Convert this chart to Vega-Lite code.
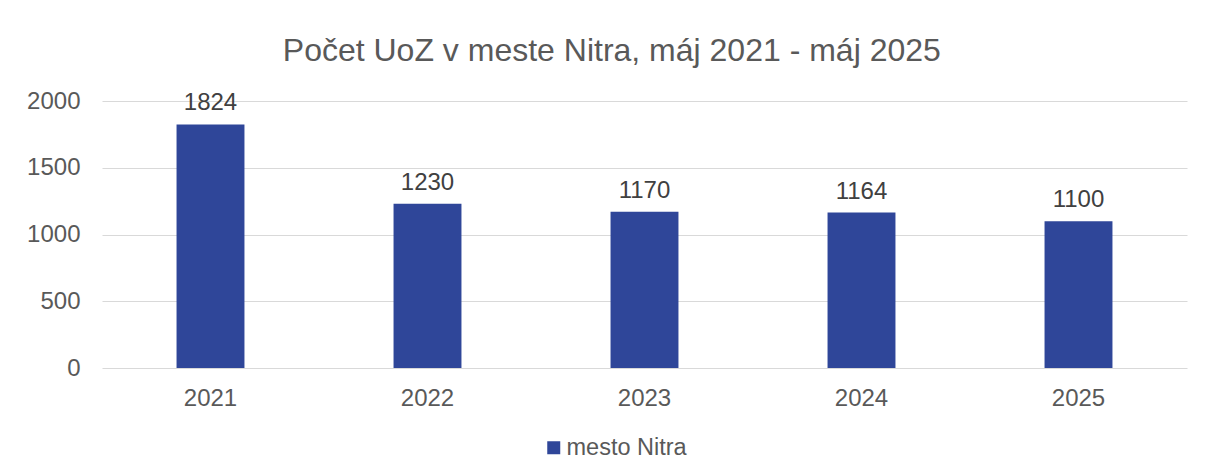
{
  "$schema": "https://vega.github.io/schema/vega-lite/v6.json",
  "width": 1085,
  "height": 267,
  "autosize": {"type": "none"},
  "padding": {"left": 102, "top": 101, "right": 22, "bottom": 108},
  "background": "white",
  "config": {
    "view": {"stroke": null},
    "font": "Liberation Sans",
    "text": {"font": "Liberation Sans"}
  },
  "title": {
    "text": "Počet UoZ v meste Nitra, máj 2021 - máj 2025",
    "fontSize": 32,
    "font": "Liberation Sans",
    "fontWeight": "normal",
    "color": "#595959",
    "anchor": "middle",
    "frame": "bounds",
    "offset": 21,
    "dx": 5
  },
  "data": {
    "values": [
      {"rok": "2021", "pocet": 1824, "seria": "mesto Nitra"},
      {"rok": "2022", "pocet": 1230, "seria": "mesto Nitra"},
      {"rok": "2023", "pocet": 1170, "seria": "mesto Nitra"},
      {"rok": "2024", "pocet": 1164, "seria": "mesto Nitra"},
      {"rok": "2025", "pocet": 1100, "seria": "mesto Nitra"}
    ]
  },
  "encoding": {
    "x": {
      "field": "rok",
      "type": "nominal",
      "title": null,
      "scale": {"paddingInner": 0.687, "paddingOuter": 0.3435},
      "axis": {
        "labelAngle": 0,
        "labelFontSize": 24,
        "labelColor": "#595959",
        "labelFont": "Liberation Sans",
        "ticks": false,
        "domain": false,
        "labelPadding": 18
      }
    },
    "y": {
      "field": "pocet",
      "type": "quantitative",
      "title": null,
      "scale": {"domain": [0, 2000]},
      "axis": {
        "values": [0, 500, 1000, 1500, 2000],
        "format": "d",
        "labelFontSize": 24,
        "labelColor": "#595959",
        "labelFont": "Liberation Sans",
        "ticks": false,
        "domain": false,
        "labelPadding": 22,
        "gridColor": "#d9d9d9",
        "gridWidth": 1.2
      }
    }
  },
  "layer": [
    {
      "mark": {"type": "bar", "color": "#2F4699"},
      "encoding": {
        "color": {
          "field": "seria",
          "type": "nominal",
          "scale": {"range": ["#2F4699"]},
          "legend": {
            "title": null,
            "orient": "none",
            "legendX": 440,
            "legendY": 335,
            "direction": "horizontal",
            "symbolType": "square",
            "symbolSize": 169,
            "symbolOpacity": 1,
            "symbolStrokeWidth": 0,
            "labelFontSize": 23.5,
            "labelColor": "#595959",
            "labelFont": "Liberation Sans",
            "labelOffset": 1
          }
        }
      }
    },
    {
      "mark": {
        "type": "text",
        "baseline": "alphabetic",
        "dy": -14,
        "fontSize": 24,
        "font": "Liberation Sans",
        "color": "#404040"
      },
      "encoding": {
        "text": {"field": "pocet", "type": "quantitative"}
      }
    }
  ]
}
